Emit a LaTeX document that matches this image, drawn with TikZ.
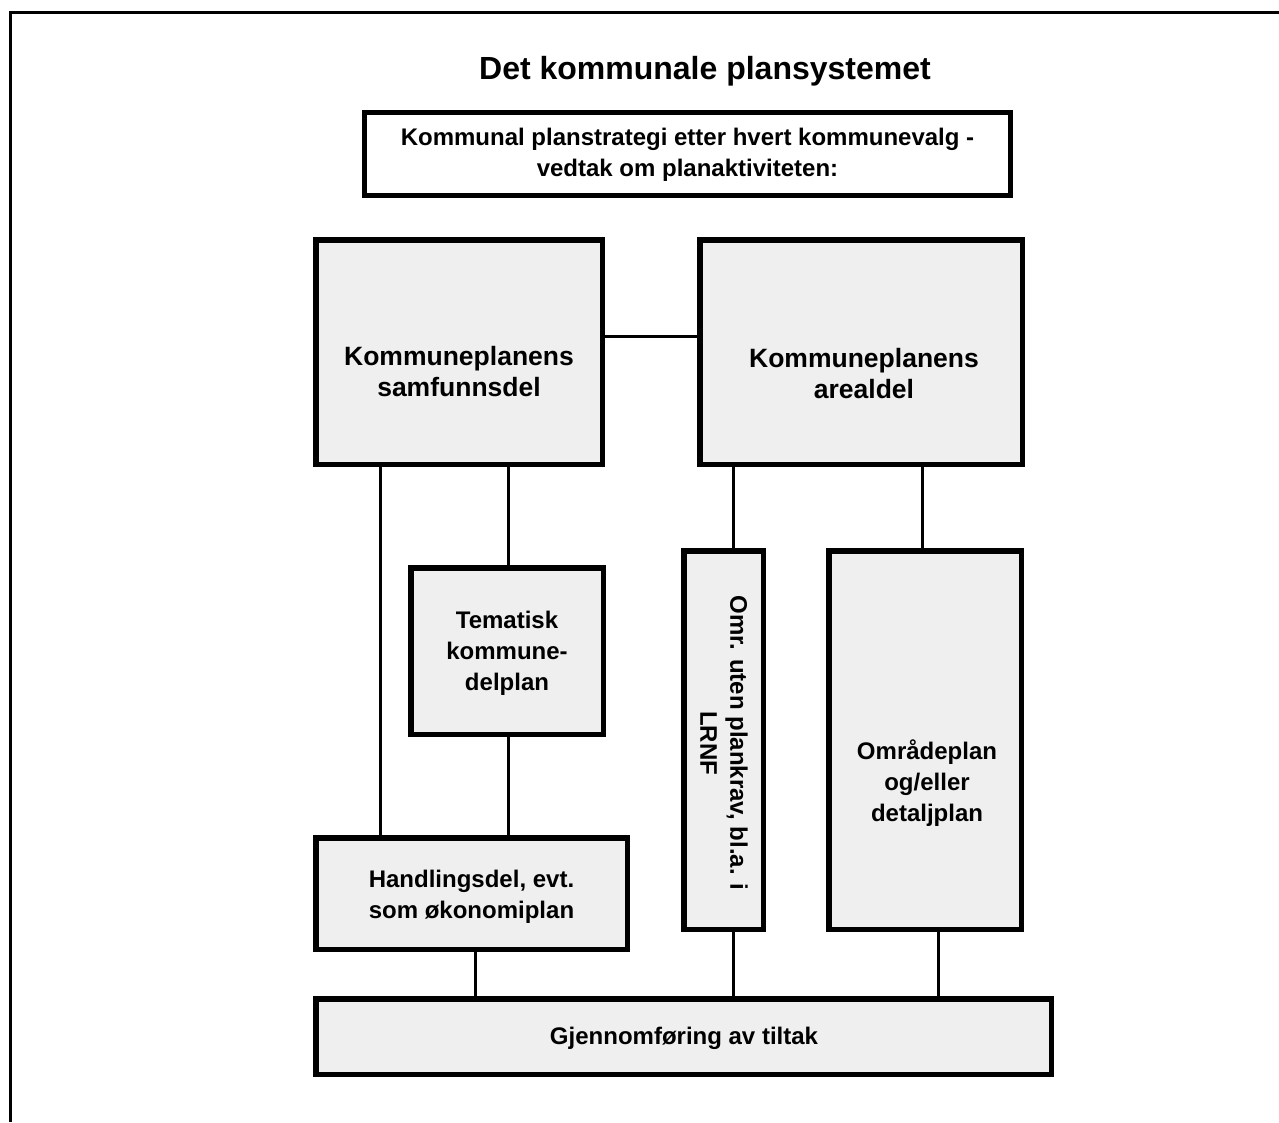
\documentclass[tikz,border=0pt]{standalone}
\usepackage{fontspec}
\setmainfont{Liberation Sans}
\begin{document}
\begin{tikzpicture}[x=1pt,y=-1pt,
  box/.style={draw=black,line width=5.5pt,fill=boxgray,inner sep=0pt,
    minimum width=#1},
  box/.default=10pt,
  whitebox/.style={draw=black,line width=5pt,fill=white,inner sep=0pt},
  conn/.style={draw=black,line width=3pt},
  frame/.style={draw=black,line width=3pt},
  bigtxt/.style={align=center,inner sep=0pt,font=\fontsize{26.5}{31}\selectfont\bfseries},
  smalltxt/.style={align=center,inner sep=0pt,font=\fontsize{24}{31}\selectfont\bfseries},
  titletxt/.style={align=center,inner sep=0pt,font=\fontsize{32}{38}\selectfont\bfseries}]
\definecolor{boxgray}{HTML}{EFEFEF}
\useasboundingbox (0,0) rectangle (1279,1122);

% open frame along the top and left edges
\coordinate (frameTL) at (10,12);
\coordinate (frameTR) at (1279,12);
\coordinate (frameBL) at (10,1122);
\draw[frame] (frameTR) -- (frameTL) -- (frameBL);

% title
\node[titletxt] (title) at (705,71) {Det kommunale plansystemet};

% planning strategy box
\node[whitebox,minimum width=646pt,minimum height=83pt] (strategi) at (687.5,154) {};
\node[smalltxt] (strategitxt) at (687.5,155)
  {Kommunal planstrategi etter hvert kommunevalg -\\vedtak om planaktiviteten:};

% main boxes
\node[box=286.5pt,minimum height=224.5pt] (samf) at (459,352) {};
\node[bigtxt] (samftxt) at (459,372) {Kommuneplanens\\samfunnsdel};

\node[box=322.5pt,minimum height=224.5pt] (areal) at (861,352) {};
\node[bigtxt] (arealtxt) at (864,374) {Kommuneplanens\\arealdel};

\node[box=192.5pt,minimum height=166.5pt] (temat) at (507,651) {};
\node[smalltxt] (temattxt) at (507,653) {Tematisk\\kommune-\\delplan};

\node[box=311.5pt,minimum height=111.5pt] (handl) at (471.5,893.5) {};
\node[smalltxt] (handltxt) at (471.5,897) {Handlingsdel, evt.\\som økonomiplan};

\node[box=79.5pt,minimum height=378.5pt] (omr) at (723.5,740) {};
\node[smalltxt,rotate=-90,font=\fontsize{24}{30}\selectfont\bfseries] (omrtxt) at (724,743)
  {Omr. uten plankrav, bl.a. i\\LRNF};

\node[box=192.5pt,minimum height=378.5pt] (omrade) at (925,740) {};
\node[smalltxt] (omradetxt) at (927,783) {Områdeplan\\og/eller\\detaljplan};

\node[box=735.5pt,minimum height=75.5pt] (gjen) at (683.5,1036.5) {};
\node[smalltxt] (gjentxt) at (684,1038) {Gjennomføring av tiltak};

% connectors
\draw[conn] (samf.east |- 0,336) -- (areal.west |- 0,336);
\draw[conn] (samf.south -| 380,0) -- (handl.north -| 380,0);
\draw[conn] (samf.south -| 508,0) -- (temat.north -| 508,0);
\draw[conn] (temat.south -| 508,0) -- (handl.north -| 508,0);
\draw[conn] (areal.south -| 733,0) -- (omr.north -| 733,0);
\draw[conn] (areal.south -| 922,0) -- (omrade.north -| 922,0);
\draw[conn] (handl.south -| 475,0) -- (gjen.north -| 475,0);
\draw[conn] (omr.south -| 733,0) -- (gjen.north -| 733,0);
\draw[conn] (omrade.south -| 938,0) -- (gjen.north -| 938,0);
\end{tikzpicture}
\end{document}
